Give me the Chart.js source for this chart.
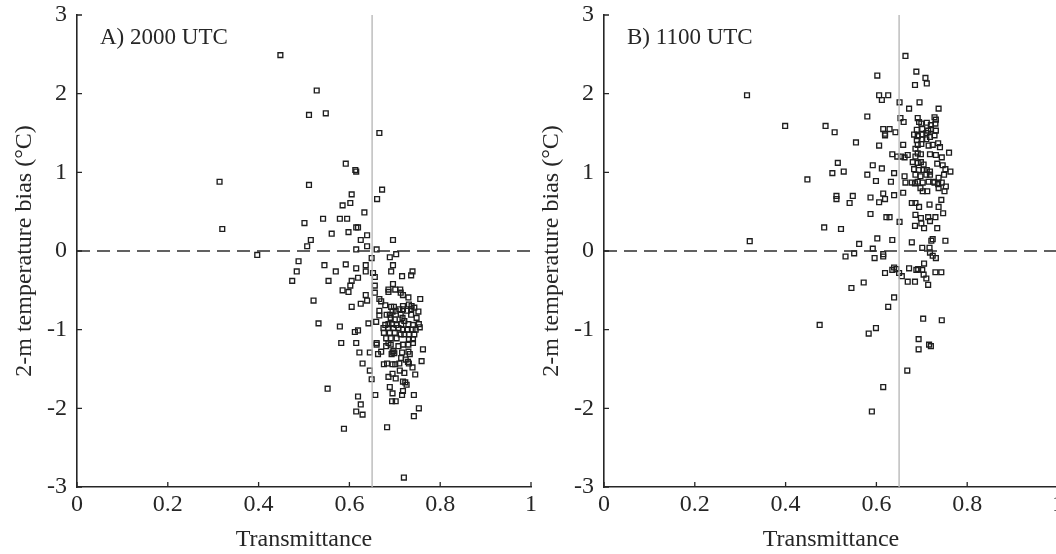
<!DOCTYPE html>
<html>
<head>
<meta charset="utf-8">
<script src="https://cdn.jsdelivr.net/npm/chart.js@4.4.1/dist/chart.umd.min.js"></script>
<style>
  html, body { margin: 0; padding: 0; background: #fff; }
  #wrap { position: relative; width: 1056px; height: 554px; overflow: hidden; }
  canvas { position: absolute; top: 0; }
  #panelA { left: 0; }
  #panelB { left: 527px; }
</style>
</head>
<body>
<div id="wrap">
  <canvas id="panelA" width="545" height="554"></canvas>
  <canvas id="panelB" width="545" height="554"></canvas>
</div>
<script>
// axis ticks
const xTicks = [0, 0.2, 0.4, 0.6, 0.8, 1];
const xTickLabels = ['0', '0.2', '0.4', '0.6', '0.8', '1'];
const yTicks = [-3, -2, -1, 0, 1, 2, 3];
const yTickLabels = ['-3', '-2', '-1', '0', '1', '2', '3'];

// reference lines
const transThreshold = 0.65;
const zeroBias = 0;

// 2000 UTC: transmittance / bias pairs
const transA = [
  0.448, 0.528, 0.511, 0.548, 0.666, 0.314, 0.320, 0.592, 0.613, 0.615,
  0.511, 0.605, 0.672, 0.661, 0.585, 0.602, 0.633, 0.501, 0.542, 0.579,
  0.595, 0.615, 0.619, 0.598, 0.561, 0.639, 0.515, 0.507, 0.625, 0.639,
  0.615, 0.660, 0.696, 0.703, 0.689, 0.397, 0.649, 0.488, 0.484, 0.474,
  0.545, 0.592, 0.615, 0.570, 0.636, 0.636, 0.652, 0.696, 0.692, 0.739,
  0.554, 0.619, 0.605, 0.602, 0.585, 0.598, 0.521, 0.605, 0.625, 0.636,
  0.639, 0.532, 0.579, 0.582, 0.612, 0.619, 0.615, 0.622, 0.629, 0.642,
  0.645, 0.645, 0.649, 0.552, 0.619, 0.625, 0.615, 0.629, 0.588, 0.683,
  0.720, 0.742, 0.753,
  0.656, 0.656, 0.656, 0.716, 0.736, 0.696, 0.686, 0.686, 0.701, 0.712,
  0.713, 0.718, 0.730, 0.756, 0.666, 0.670, 0.679, 0.692, 0.698, 0.718,
  0.718, 0.710, 0.731, 0.737, 0.743, 0.736, 0.752, 0.666, 0.666, 0.682,
  0.689, 0.695, 0.702, 0.713, 0.727, 0.736, 0.748, 0.659, 0.691, 0.700,
  0.717, 0.721, 0.679, 0.686, 0.694, 0.704, 0.714, 0.730, 0.740, 0.753,
  0.755, 0.675, 0.685, 0.697, 0.708, 0.718, 0.727, 0.739, 0.746, 0.676,
  0.689, 0.700, 0.713, 0.721, 0.731, 0.743, 0.681, 0.691, 0.704, 0.731,
  0.740, 0.660, 0.686, 0.740,
  0.660, 0.681, 0.691, 0.663, 0.670, 0.695, 0.697, 0.693, 0.699, 0.708,
  0.718, 0.730, 0.716, 0.730, 0.733, 0.714, 0.724, 0.729, 0.731, 0.762,
  0.759, 0.739, 0.676, 0.683, 0.695, 0.701, 0.710, 0.711, 0.721, 0.745,
  0.686, 0.695, 0.702, 0.718, 0.723, 0.726, 0.689, 0.695, 0.718, 0.716,
  0.742, 0.694, 0.702, 0.657
];
const biasA = [
  2.49, 2.04, 1.73, 1.75, 1.50, 0.88, 0.28, 1.11, 1.03, 1.01,
  0.84, 0.72, 0.78, 0.66, 0.58, 0.61, 0.49, 0.355, 0.41, 0.41,
  0.41, 0.30, 0.30, 0.24, 0.22, 0.20, 0.14, 0.06, 0.14, 0.06,
  0.02, 0.02, 0.14, -0.04, -0.08, -0.05, -0.09, -0.13, -0.26, -0.38,
  -0.18, -0.17, -0.22, -0.26, -0.26, -0.18, -0.28, -0.18, -0.26, -0.26,
  -0.38, -0.34, -0.38, -0.44, -0.50, -0.52, -0.63, -0.71, -0.67, -0.56,
  -0.63, -0.92, -0.96, -1.17, -1.03, -1.01, -1.17, -1.29, -1.43, -0.92,
  -1.29, -1.52, -1.63, -1.75, -1.85, -1.95, -2.04, -2.08, -2.26, -2.24,
  -2.88, -2.10, -2.00,
  -0.33, -0.44, -0.53, -0.32, -0.31, -0.42, -0.49, -0.52, -0.49, -0.49,
  -0.53, -0.56, -0.59, -0.61, -0.61, -0.64, -0.69, -0.71, -0.71, -0.70,
  -0.74, -0.74, -0.68, -0.70, -0.72, -0.74, -0.77, -0.76, -0.82, -0.81,
  -0.81, -0.77, -0.76, -0.81, -0.76, -0.81, -0.85, -0.90, -0.85, -0.87,
  -0.85, -0.89, -0.94, -0.93, -0.93, -0.94, -0.93, -0.93, -0.94, -0.93,
  -0.97, -0.98, -0.98, -0.98, -0.98, -1.00, -1.00, -1.00, -1.00, -1.04,
  -1.04, -1.04, -1.06, -1.06, -1.06, -1.06, -1.11, -1.11, -1.11, -1.12,
  -1.12, -1.17, -1.17, -1.17,
  -1.19, -1.21, -1.19, -1.31, -1.28, -1.29, -1.27, -1.31, -1.30, -1.21,
  -1.19, -1.19, -1.29, -1.28, -1.31, -1.36, -1.38, -1.41, -1.43, -1.25,
  -1.40, -1.48, -1.44, -1.43, -1.44, -1.44, -1.43, -1.52, -1.55, -1.57,
  -1.60, -1.56, -1.62, -1.66, -1.67, -1.70, -1.73, -1.81, -1.78, -1.83,
  -1.83, -1.91, -1.91, -1.83
];

// 1100 UTC: transmittance / bias pairs
const transB = [
  0.315, 0.321, 0.399, 0.448, 0.488, 0.508, 0.515, 0.528, 0.503, 0.512,
  0.512, 0.548, 0.541, 0.555, 0.485, 0.522, 0.475, 0.532, 0.551, 0.562,
  0.545, 0.572, 0.580, 0.580, 0.587, 0.587, 0.592, 0.592, 0.596, 0.599,
  0.602, 0.606, 0.612, 0.626, 0.606, 0.602, 0.606, 0.612, 0.615, 0.619,
  0.615, 0.619, 0.619, 0.629, 0.622, 0.629, 0.615, 0.615, 0.619, 0.635,
  0.632, 0.639, 0.639, 0.635, 0.639, 0.635, 0.639, 0.626, 0.642, 0.599,
  0.583, 0.590, 0.615, 0.668, 0.693, 0.693, 0.716, 0.720, 0.703, 0.744,
  0.664, 0.651, 0.651, 0.646, 0.644, 0.650, 0.656, 0.653, 0.660, 0.659,
  0.654, 0.662, 0.669, 0.662, 0.659, 0.664, 0.669, 0.685, 0.672, 0.672,
  0.678,
  0.688, 0.708, 0.685, 0.711, 0.695, 0.737,
  0.691, 0.694, 0.699, 0.711, 0.720, 0.728, 0.731, 0.730, 0.689, 0.701,
  0.714, 0.720, 0.731,
  0.683, 0.691, 0.701, 0.710, 0.718, 0.728, 0.689, 0.701, 0.710, 0.691,
  0.699, 0.715, 0.724, 0.736, 0.740, 0.686, 0.698, 0.718, 0.731, 0.686,
  0.691, 0.744, 0.760, 0.680, 0.691, 0.698, 0.704, 0.734, 0.746, 0.752,
  0.763, 0.683, 0.693, 0.704, 0.711, 0.718, 0.686, 0.697, 0.710, 0.718,
  0.737, 0.749, 0.691, 0.702, 0.715, 0.725, 0.678, 0.685, 0.728, 0.736,
  0.744, 0.753, 0.737, 0.750, 0.697, 0.702, 0.712, 0.743,
  0.678, 0.686, 0.694, 0.717, 0.737, 0.747, 0.686, 0.698, 0.714, 0.718,
  0.730, 0.685, 0.699, 0.705, 0.734, 0.721, 0.724, 0.752, 0.701, 0.717,
  0.718, 0.724, 0.731, 0.705, 0.688, 0.692, 0.701, 0.704, 0.710, 0.714,
  0.730, 0.743
];
const biasB = [
  1.98, 0.125, 1.59, 0.91, 1.59, 1.51, 1.12, 1.01, 0.99, 0.70,
  0.66, 0.70, 0.61, 1.38, 0.30, 0.28, -0.94, -0.07, -0.03, 0.09,
  -0.47, -0.40, 1.71, 0.97, 0.68, 0.47, 1.09, 0.03, -0.09, 0.89,
  2.23, 1.98, 1.92, 1.98, 1.34, 0.16, 0.62, 1.05, 0.73, 0.66,
  1.55, 1.49, 1.47, 1.55, 0.43, 0.43, -0.04, -0.07, -0.28, 1.23,
  0.88, 0.99, 0.71, 0.14, -0.21, -0.24, -0.59, -0.71, 1.51, -0.98,
  -1.05, -2.04, -1.73, -1.52, -1.12, -1.25, -1.19, -1.21, -0.86, -0.88,
  2.48, 1.89, 0.37, 1.20, -0.23, -0.28, -0.32, 1.69, 1.64, 1.35,
  1.20, 1.19, 1.22, 0.95, 0.74, 0.87, -0.39, -0.39, -0.22, 1.81,
  0.11,
  2.28, 2.20, 2.11, 2.13, 1.89, 1.81,
  1.69, 1.64, 1.62, 1.63, 1.60, 1.70, 1.67, 1.62, 1.54, 1.55,
  1.53, 1.55, 1.53,
  1.48, 1.46, 1.48, 1.50, 1.45, 1.47, 1.41, 1.42, 1.42, 1.35,
  1.36, 1.34, 1.35, 1.37, 1.32, 1.30, 1.23, 1.23, 1.22, 1.20,
  1.24, 1.19, 1.25, 1.13, 1.12, 1.13, 1.10, 1.11, 1.09, 1.04,
  1.01, 1.04, 1.03, 1.03, 1.03, 1.01, 0.97, 0.95, 0.97, 0.97,
  0.93, 0.97, 0.88, 0.87, 0.88, 0.88, 0.87, 0.86, 0.87, 0.85,
  0.87, 0.82, 0.80, 0.76, 0.80, 0.76, 0.76, 0.65,
  0.61, 0.61, 0.56, 0.59, 0.56, 0.48, 0.46, 0.42, 0.43, 0.38,
  0.43, 0.32, 0.35, 0.29, 0.29, 0.13, 0.15, 0.13, 0.04, 0.04,
  -0.02, -0.06, -0.09, -0.16, -0.24, -0.23, -0.24, -0.30, -0.35, -0.43,
  -0.27, -0.27
];

const FONT = 'Liberation Serif';
const INK = '#262626';

// MATLAB-style inward tick marks plus the panel tag in the upper left
const axisDecor = {
  id: 'axisDecor',
  afterDraw(chart, args, opts) {
    const { ctx, chartArea } = chart;
    const xs = chart.scales.x, ys = chart.scales.y;
    ctx.save();
    ctx.strokeStyle = INK;
    ctx.lineWidth = 1.3;
    ctx.beginPath();
    xTicks.forEach(v => {
      const px = xs.getPixelForValue(v);
      ctx.moveTo(px, chartArea.bottom);
      ctx.lineTo(px, chartArea.bottom - 5);
    });
    yTicks.forEach(v => {
      const py = ys.getPixelForValue(v);
      ctx.moveTo(chartArea.left, py);
      ctx.lineTo(chartArea.left + 5, py);
    });
    ctx.stroke();
    ctx.fillStyle = INK;
    ctx.font = '23px "' + FONT + '"';
    ctx.textBaseline = 'middle';
    ctx.textAlign = 'left';
    ctx.fillText(opts.tag, chartArea.left + 23, chartArea.top + 23);
    ctx.restore();
  }
};

function makePanel(id, tag, xs, ys) {
  const points = xs.map((x, i) => ({ x: x, y: ys[i] }));
  return new Chart(document.getElementById(id), {
    type: 'scatter',
    data: {
      datasets: [
        {
          data: [{ x: transThreshold, y: yTicks[0] }, { x: transThreshold, y: yTicks[yTicks.length - 1] }],
          showLine: true,
          borderColor: '#b9b9b9',
          borderWidth: 1.4,
          pointRadius: 0,
          order: 0
        },
        {
          data: [{ x: xTicks[0], y: zeroBias }, { x: xTicks[xTicks.length - 1], y: zeroBias }],
          showLine: true,
          borderColor: '#2e2e2e',
          borderWidth: 1.5,
          borderDash: [13, 7],
          pointRadius: 0,
          order: 0
        },
        {
          data: points,
          pointStyle: 'rect',
          pointRadius: 3.4,
          borderColor: '#1e1e1e',
          borderWidth: 1.35,
          backgroundColor: 'rgba(255,255,255,0)',
          order: 1
        }
      ]
    },
    options: {
      responsive: false,
      animation: false,
      events: [],
      layout: { padding: { left: 0, right: 14, top: 15, bottom: 0 } },
      plugins: {
        legend: { display: false },
        tooltip: { enabled: false },
        axisDecor: { tag: tag }
      },
      scales: {
        x: {
          type: 'linear',
          min: 0,
          max: 1,
          afterFit: s => { s.height = 67; s.paddingLeft = 0; s.paddingRight = 0; },
          afterBuildTicks: s => { s.ticks = xTicks.map(v => ({ value: v })); },
          grid: { display: false, drawTicks: false },
          border: { display: true, color: INK, width: 1.6 },
          ticks: {
            padding: 3,
            color: INK,
            font: { family: FONT, size: 24 },
            maxRotation: 0,
            callback: (v, i) => xTickLabels[i]
          },
          title: {
            display: true,
            text: 'Transmittance',
            color: INK,
            font: { family: FONT, size: 24 },
            padding: { top: 0, bottom: 0 }
          }
        },
        y: {
          type: 'linear',
          min: -3,
          max: 3,
          afterFit: s => { s.width = 77; s.paddingTop = 0; s.paddingBottom = 0; },
          afterBuildTicks: s => { s.ticks = yTicks.map(v => ({ value: v })); },
          grid: { display: false, drawTicks: false },
          border: { display: true, color: INK, width: 1.6 },
          ticks: {
            padding: 10,
            color: INK,
            font: { family: FONT, size: 24 },
            callback: (v, i) => yTickLabels[i]
          },
          title: {
            display: true,
            text: '2-m temperature bias (°C)',
            color: INK,
            font: { family: FONT, size: 24 },
            padding: { top: 10, bottom: 0 }
          }
        }
      }
    },
    plugins: [axisDecor]
  });
}

makePanel('panelA', 'A) 2000 UTC', transA, biasA);
makePanel('panelB', 'B) 1100 UTC', transB, biasB);
</script>
</body>
</html>
